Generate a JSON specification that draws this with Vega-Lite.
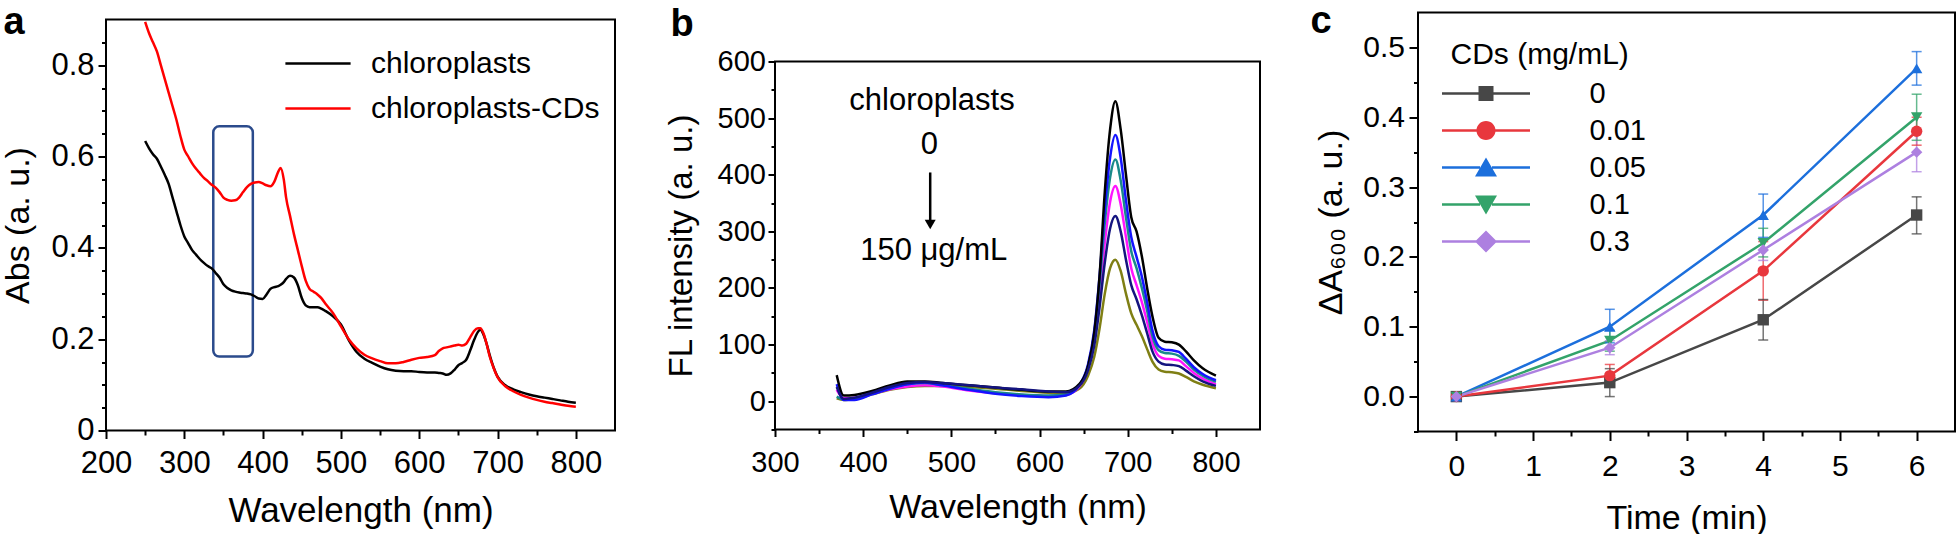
{
  "$schema": "https://vega.github.io/schema/vega-lite/v6.json",
  "padding": {"left": 0, "top": 1.5, "right": 0, "bottom": 0},
  "background": "white",
  "spacing": 48,
  "resolve": {"scale": {"color": "independent", "shape": "independent", "stroke": "independent", "fill": "independent"}, "legend": {"color": "independent", "shape": "independent"}},
  "config": {
    "font": "Liberation Sans",
    "view": {"stroke": "#000000", "strokeWidth": 2},
    "axis": {"domain": false, "grid": false, "tickColor": "#000000", "tickWidth": 2, "labelColor": "#000000", "titleColor": "#000000", "titleFontWeight": "normal", "labelFont": "Liberation Sans", "titleFont": "Liberation Sans", "labelFlush": false, "labelOverlap": false},
    "legend": {"labelFont": "Liberation Sans", "titleFont": "Liberation Sans", "labelColor": "#000000", "titleColor": "#000000", "titleFontWeight": "normal", "padding": 0, "labelLimit": 500, "titleLimit": 500},
    "title": {"font": "Liberation Sans", "fontWeight": "bold", "color": "#000000"}
  },
  "hconcat": [
    {
      "spacing": 0,
      "bounds": "flush",
      "vconcat": [
        {
          "width": 509, "height": 7,
          "data": {"values": [{}]},
          "mark": {"type": "text", "text": ""},
          "view": {"stroke": null},
          "title": {"text": "a", "anchor": "start", "frame": "group", "orient": "top", "offset": 0, "dx": -102.5, "dy": 61.6, "baseline": "alphabetic", "fontSize": 38}
        },
        {
          "width": 509, "height": 411,
          "resolve": {"axis": {"x": "independent", "y": "independent"}},
          "layer": [
            {
              "data": {"values": [{"x": 500, "y": 0.5}]},
              "mark": {"type": "point", "opacity": 0},
              "encoding": {
                "x": {"field": "x", "type": "quantitative", "scale": {"domain": [200, 850], "nice": false, "zero": false}, "axis": {"orient": "bottom", "values": [250, 350, 450, 550, 650, 750], "labels": false, "tickSize": 4.5, "title": null}},
                "y": {"field": "y", "type": "quantitative", "scale": {"domain": [0, 0.9], "nice": false, "zero": false}, "axis": {"orient": "left", "values": [0.05, 0.1, 0.15, 0.25, 0.3, 0.35, 0.45, 0.5, 0.55, 0.65, 0.7, 0.75, 0.85], "labels": false, "tickSize": 4.5, "title": null}}
              }
            },
            {
              "data": {"values": [{"x1": 337, "x2": 387.5, "y1": 0.162, "y2": 0.666}]},
              "mark": {"type": "rect", "filled": false, "stroke": "#2b4b8c", "strokeWidth": 2.5, "cornerRadius": 6},
              "encoding": {
                "x": {"field": "x1", "type": "quantitative", "scale": {"domain": [200, 850], "nice": false, "zero": false}, "axis": {"orient": "bottom", "values": [200, 300, 400, 500, 600, 700, 800], "format": "d", "labelFontSize": 31, "tickSize": 8, "labelPadding": 10, "title": "Wavelength (nm)", "titleFontSize": 35, "titlePadding": 15}},
                "x2": {"field": "x2"},
                "y": {"field": "y1", "type": "quantitative", "scale": {"domain": [0, 0.9], "nice": false, "zero": false}, "axis": {"orient": "left", "values": [0, 0.2, 0.4, 0.6, 0.8], "format": "~g", "labelFontSize": 31, "tickSize": 8, "labelPadding": 4, "title": "Abs (a. u.)", "titleFontSize": 34, "titlePadding": 15}},
                "y2": {"field": "y2"}
              }
            },
            {
              "data": {"values": [
                {"x": 250, "k": 0.634, "r": 0.895}, {"x": 255, "k": 0.618, "r": 0.87}, {"x": 260, "k": 0.605, "r": 0.85}, {"x": 265, "k": 0.595, "r": 0.83},
                {"x": 270, "k": 0.578, "r": 0.8}, {"x": 275, "k": 0.56, "r": 0.77}, {"x": 280, "k": 0.54, "r": 0.74}, {"x": 285, "k": 0.51, "r": 0.71},
                {"x": 290, "k": 0.48, "r": 0.68}, {"x": 295, "k": 0.45, "r": 0.645}, {"x": 300, "k": 0.425, "r": 0.615}, {"x": 305, "k": 0.41, "r": 0.6},
                {"x": 310, "k": 0.395, "r": 0.585}, {"x": 315, "k": 0.385, "r": 0.573}, {"x": 320, "k": 0.375, "r": 0.563}, {"x": 325, "k": 0.367, "r": 0.553},
                {"x": 330, "k": 0.36, "r": 0.546}, {"x": 335, "k": 0.355, "r": 0.538}, {"x": 340, "k": 0.345, "r": 0.532}, {"x": 345, "k": 0.335, "r": 0.522},
                {"x": 350, "k": 0.32, "r": 0.51}, {"x": 355, "k": 0.312, "r": 0.505}, {"x": 360, "k": 0.307, "r": 0.503}, {"x": 365, "k": 0.304, "r": 0.504},
                {"x": 370, "k": 0.302, "r": 0.51}, {"x": 375, "k": 0.301, "r": 0.522}, {"x": 380, "k": 0.3, "r": 0.533}, {"x": 385, "k": 0.298, "r": 0.54},
                {"x": 390, "k": 0.294, "r": 0.543}, {"x": 395, "k": 0.289, "r": 0.544}, {"x": 400, "k": 0.288, "r": 0.541}, {"x": 405, "k": 0.298, "r": 0.537},
                {"x": 410, "k": 0.31, "r": 0.535}, {"x": 415, "k": 0.314, "r": 0.545}, {"x": 420, "k": 0.316, "r": 0.567}, {"x": 423, "k": 0.319, "r": 0.575},
                {"x": 427, "k": 0.325, "r": 0.55}, {"x": 430, "k": 0.332, "r": 0.51}, {"x": 435, "k": 0.339, "r": 0.47}, {"x": 440, "k": 0.335, "r": 0.43},
                {"x": 445, "k": 0.318, "r": 0.395}, {"x": 450, "k": 0.29, "r": 0.36}, {"x": 455, "k": 0.274, "r": 0.328}, {"x": 460, "k": 0.27, "r": 0.31},
                {"x": 465, "k": 0.27, "r": 0.304}, {"x": 470, "k": 0.27, "r": 0.298}, {"x": 475, "k": 0.267, "r": 0.29}, {"x": 480, "k": 0.262, "r": 0.278},
                {"x": 490, "k": 0.25, "r": 0.257}, {"x": 500, "k": 0.232, "r": 0.228}, {"x": 510, "k": 0.198, "r": 0.2}, {"x": 520, "k": 0.172, "r": 0.18},
                {"x": 530, "k": 0.157, "r": 0.166}, {"x": 540, "k": 0.148, "r": 0.158}, {"x": 550, "k": 0.14, "r": 0.152}, {"x": 560, "k": 0.134, "r": 0.147},
                {"x": 570, "k": 0.131, "r": 0.147}, {"x": 580, "k": 0.13, "r": 0.15}, {"x": 590, "k": 0.13, "r": 0.155}, {"x": 600, "k": 0.128, "r": 0.159},
                {"x": 610, "k": 0.127, "r": 0.161}, {"x": 620, "k": 0.127, "r": 0.165}, {"x": 625, "k": 0.126, "r": 0.174}, {"x": 630, "k": 0.125, "r": 0.18},
                {"x": 635, "k": 0.122, "r": 0.182}, {"x": 640, "k": 0.125, "r": 0.184}, {"x": 645, "k": 0.133, "r": 0.186}, {"x": 650, "k": 0.143, "r": 0.188},
                {"x": 655, "k": 0.148, "r": 0.186}, {"x": 660, "k": 0.155, "r": 0.19}, {"x": 665, "k": 0.175, "r": 0.204}, {"x": 670, "k": 0.198, "r": 0.218},
                {"x": 675, "k": 0.216, "r": 0.224}, {"x": 678, "k": 0.221, "r": 0.224}, {"x": 682, "k": 0.21, "r": 0.213}, {"x": 686, "k": 0.19, "r": 0.19},
                {"x": 690, "k": 0.165, "r": 0.162}, {"x": 695, "k": 0.138, "r": 0.137}, {"x": 700, "k": 0.118, "r": 0.117}, {"x": 710, "k": 0.099, "r": 0.097},
                {"x": 720, "k": 0.09, "r": 0.086}, {"x": 730, "k": 0.084, "r": 0.078}, {"x": 740, "k": 0.079, "r": 0.072}, {"x": 750, "k": 0.075, "r": 0.067},
                {"x": 760, "k": 0.072, "r": 0.063}, {"x": 770, "k": 0.069, "r": 0.06}, {"x": 780, "k": 0.066, "r": 0.057}, {"x": 790, "k": 0.063, "r": 0.054},
                {"x": 800, "k": 0.061, "r": 0.052}
              ]},
              "transform": [{"fold": ["k", "r"], "as": ["s", "v"]}],
              "mark": {"type": "line", "strokeWidth": 2.5, "interpolate": "monotone"},
              "encoding": {
                "x": {"field": "x", "type": "quantitative", "scale": {"domain": [200, 850], "nice": false, "zero": false}, "axis": null},
                "y": {"field": "v", "type": "quantitative", "scale": {"domain": [0, 0.9], "nice": false, "zero": false}, "axis": null},
                "color": {"field": "s", "type": "nominal", "scale": {"domain": ["k", "r"], "range": ["#000000", "#ff0000"]},
                  "legend": {"orient": "none", "legendX": 197, "legendY": 36, "title": null, "symbolType": "M-3.26,0H3.26", "symbolSize": 400, "symbolStrokeWidth": 2.5, "labelFontSize": 30, "labelOffset": 38, "rowPadding": 15, "labelExpr": "datum.label == 'k' ? 'chloroplasts' : 'chloroplasts-CDs'"}}
              }
            }
          ]
        }
      ]
    },
    {
      "spacing": 0,
      "bounds": "flush",
      "vconcat": [
        {
          "width": 485, "height": 49,
          "data": {"values": [{}]},
          "mark": {"type": "text", "text": ""},
          "view": {"stroke": null},
          "title": {"text": "b", "anchor": "start", "frame": "group", "orient": "top", "offset": 0, "dx": -104.5, "dy": 61.6, "baseline": "alphabetic", "fontSize": 38}
        },
        {
          "width": 485, "height": 368,
          "resolve": {"axis": {"x": "independent", "y": "independent"}},
          "layer": [
            {
              "data": {"values": [{"x": 500, "y": 100}]},
              "mark": {"type": "point", "opacity": 0},
              "encoding": {
                "x": {"field": "x", "type": "quantitative", "scale": {"domain": [300, 850], "nice": false, "zero": false}, "axis": {"orient": "bottom", "values": [350, 450, 550, 650, 750], "labels": false, "tickSize": 4, "title": null}},
                "y": {"field": "y", "type": "quantitative", "scale": {"domain": [-50, 600], "nice": false, "zero": false}, "axis": {"orient": "left", "values": [-50, 50, 150, 250, 350, 450, 550], "labels": false, "tickSize": 4, "title": null}}
              }
            },
            {
              "data": {"values": [
                {"x": 370, "c0": 46, "c1": 30, "c2": 8, "c3": 20, "c4": 25, "c5": 5},
                {"x": 378, "c0": 10, "c1": 2, "c2": 3, "c3": 5, "c4": 4, "c5": 2},
                {"x": 390, "c0": 11, "c1": 2, "c2": 5, "c3": 6, "c4": 6, "c5": 4},
                {"x": 410, "c0": 18, "c1": 12, "c2": 14, "c3": 13, "c4": 15, "c5": 12},
                {"x": 430, "c0": 28, "c1": 22, "c2": 24, "c3": 21, "c4": 25, "c5": 20},
                {"x": 450, "c0": 35, "c1": 30, "c2": 30, "c3": 26, "c4": 32, "c5": 25},
                {"x": 470, "c0": 35, "c1": 33, "c2": 32, "c3": 28, "c4": 34, "c5": 27},
                {"x": 490, "c0": 32, "c1": 28, "c2": 28, "c3": 26, "c4": 32, "c5": 27},
                {"x": 520, "c0": 28, "c1": 20, "c2": 22, "c3": 19, "c4": 28, "c5": 25},
                {"x": 550, "c0": 24, "c1": 13, "c2": 16, "c3": 14, "c4": 24, "c5": 22},
                {"x": 580, "c0": 20, "c1": 9, "c2": 12, "c3": 11, "c4": 21, "c5": 18},
                {"x": 610, "c0": 17, "c1": 7, "c2": 10, "c3": 9, "c4": 17, "c5": 15},
                {"x": 630, "c0": 17, "c1": 10, "c2": 12, "c3": 11, "c4": 16, "c5": 14},
                {"x": 645, "c0": 30, "c1": 28, "c2": 28, "c3": 26, "c4": 27, "c5": 22},
                {"x": 655, "c0": 62, "c1": 65, "c2": 62, "c3": 58, "c4": 55, "c5": 45},
                {"x": 662, "c0": 120, "c1": 125, "c2": 118, "c3": 108, "c4": 98, "c5": 78},
                {"x": 668, "c0": 220, "c1": 220, "c2": 205, "c3": 185, "c4": 165, "c5": 128},
                {"x": 674, "c0": 370, "c1": 340, "c2": 315, "c3": 280, "c4": 245, "c5": 190},
                {"x": 680, "c0": 480, "c1": 430, "c2": 395, "c3": 352, "c4": 305, "c5": 235},
                {"x": 686, "c0": 530, "c1": 470, "c2": 427, "c3": 380, "c4": 327, "c5": 250},
                {"x": 692, "c0": 480, "c1": 430, "c2": 390, "c3": 348, "c4": 300, "c5": 230},
                {"x": 698, "c0": 400, "c1": 355, "c2": 325, "c3": 290, "c4": 250, "c5": 190},
                {"x": 704, "c0": 325, "c1": 290, "c2": 265, "c3": 235, "c4": 205, "c5": 155},
                {"x": 710, "c0": 300, "c1": 255, "c2": 235, "c3": 205, "c4": 180, "c5": 135},
                {"x": 716, "c0": 256, "c1": 220, "c2": 200, "c3": 175, "c4": 152, "c5": 115},
                {"x": 722, "c0": 200, "c1": 175, "c2": 160, "c3": 140, "c4": 120, "c5": 92},
                {"x": 728, "c0": 150, "c1": 125, "c2": 115, "c3": 102, "c4": 88, "c5": 70},
                {"x": 735, "c0": 112, "c1": 97, "c2": 90, "c3": 80, "c4": 70, "c5": 56},
                {"x": 742, "c0": 105, "c1": 91, "c2": 85, "c3": 75, "c4": 65, "c5": 52},
                {"x": 750, "c0": 104, "c1": 90, "c2": 84, "c3": 74, "c4": 64, "c5": 51},
                {"x": 758, "c0": 100, "c1": 87, "c2": 80, "c3": 72, "c4": 62, "c5": 49},
                {"x": 766, "c0": 88, "c1": 75, "c2": 70, "c3": 62, "c4": 54, "c5": 43},
                {"x": 775, "c0": 72, "c1": 60, "c2": 56, "c3": 50, "c4": 44, "c5": 35},
                {"x": 785, "c0": 58, "c1": 48, "c2": 45, "c3": 40, "c4": 35, "c5": 29},
                {"x": 800, "c0": 45, "c1": 37, "c2": 34, "c3": 30, "c4": 27, "c5": 23}
              ]},
              "transform": [{"fold": ["c5", "c3", "c2", "c1", "c0", "c4"], "as": ["s", "v"]}],
              "mark": {"type": "line", "strokeWidth": 2.5, "interpolate": "monotone"},
              "encoding": {
                "x": {"field": "x", "type": "quantitative", "scale": {"domain": [300, 850], "nice": false, "zero": false}, "axis": {"orient": "bottom", "values": [300, 400, 500, 600, 700, 800], "format": "d", "labelFontSize": 29, "tickSize": 7, "labelPadding": 11.5, "title": "Wavelength (nm)", "titleFontSize": 34, "titlePadding": 13}},
                "y": {"field": "v", "type": "quantitative", "scale": {"domain": [-50, 600], "nice": false, "zero": false}, "axis": {"orient": "left", "values": [0, 100, 200, 300, 400, 500, 600], "format": "d", "labelFontSize": 29, "tickSize": 7, "labelPadding": 2.5, "title": "FL intensity (a. u.)", "titleFontSize": 33, "titlePadding": 19}},
                "color": {"field": "s", "type": "nominal", "scale": {"domain": ["c0", "c1", "c2", "c3", "c4", "c5"], "range": ["#000000", "#1414ff", "#1a8a8a", "#ff14ff", "#14147f", "#7f7f14"]}, "legend": null}
              }
            },
            {
              "data": {"values": [
                {"x": 478, "y": 531, "t": "chloroplasts"},
                {"x": 475, "y": 452, "t": "0"},
                {"x": 480, "y": 265, "t": "150 μg/mL"}
              ]},
              "mark": {"type": "text", "fontSize": 31, "baseline": "middle", "align": "center", "color": "#000000"},
              "encoding": {
                "x": {"field": "x", "type": "quantitative", "scale": {"domain": [300, 850], "nice": false, "zero": false}, "axis": null},
                "y": {"field": "y", "type": "quantitative", "scale": {"domain": [-50, 600], "nice": false, "zero": false}, "axis": null},
                "text": {"field": "t"}
              }
            },
            {
              "data": {"values": [{"x": 476, "y": 404, "y2": 316}]},
              "mark": {"type": "rule", "strokeWidth": 2.5, "color": "#000000"},
              "encoding": {
                "x": {"field": "x", "type": "quantitative", "scale": {"domain": [300, 850], "nice": false, "zero": false}, "axis": null},
                "y": {"field": "y", "type": "quantitative", "scale": {"domain": [-50, 600], "nice": false, "zero": false}, "axis": null},
                "y2": {"field": "y2"}
              }
            },
            {
              "data": {"values": [{"x": 476, "y": 312}]},
              "mark": {"type": "point", "shape": "triangle-down", "filled": true, "size": 120, "opacity": 1, "color": "#000000"},
              "encoding": {
                "x": {"field": "x", "type": "quantitative", "scale": {"domain": [300, 850], "nice": false, "zero": false}, "axis": null},
                "y": {"field": "y", "type": "quantitative", "scale": {"domain": [-50, 600], "nice": false, "zero": false}, "axis": null}
              }
            }
          ]
        }
      ]
    },
    {
      "width": 537, "height": 419,
      "title": {"text": "c", "anchor": "start", "frame": "group", "orient": "top", "offset": 0, "dx": -107.5, "dy": 58, "baseline": "alphabetic", "fontSize": 38},
      "resolve": {"axis": {"x": "independent", "y": "independent"}},
      "data": {"values": [
        {"s": "0", "t": 0, "v": 0, "lo": 0, "hi": 0},
        {"s": "0", "t": 2, "v": 0.02, "lo": 0.0, "hi": 0.04},
        {"s": "0", "t": 4, "v": 0.11, "lo": 0.081, "hi": 0.139},
        {"s": "0", "t": 6, "v": 0.26, "lo": 0.233, "hi": 0.286},
        {"s": "0.01", "t": 0, "v": 0, "lo": 0, "hi": 0},
        {"s": "0.01", "t": 2, "v": 0.03, "lo": 0.015, "hi": 0.046},
        {"s": "0.01", "t": 4, "v": 0.18, "lo": 0.138, "hi": 0.222},
        {"s": "0.01", "t": 6, "v": 0.38, "lo": 0.36, "hi": 0.4},
        {"s": "0.05", "t": 0, "v": 0, "lo": 0, "hi": 0},
        {"s": "0.05", "t": 2, "v": 0.1, "lo": 0.077, "hi": 0.125},
        {"s": "0.05", "t": 4, "v": 0.26, "lo": 0.228, "hi": 0.29},
        {"s": "0.05", "t": 6, "v": 0.47, "lo": 0.446, "hi": 0.494},
        {"s": "0.1", "t": 0, "v": 0, "lo": 0, "hi": 0},
        {"s": "0.1", "t": 2, "v": 0.08, "lo": 0.065, "hi": 0.095},
        {"s": "0.1", "t": 4, "v": 0.22, "lo": 0.2, "hi": 0.241},
        {"s": "0.1", "t": 6, "v": 0.4, "lo": 0.367, "hi": 0.433},
        {"s": "0.3", "t": 0, "v": 0, "lo": 0, "hi": 0},
        {"s": "0.3", "t": 2, "v": 0.07, "lo": 0.06, "hi": 0.08},
        {"s": "0.3", "t": 4, "v": 0.21, "lo": 0.195, "hi": 0.226},
        {"s": "0.3", "t": 6, "v": 0.35, "lo": 0.322, "hi": 0.376}
      ]},
      "layer": [
        {
          "data": {"values": [{"x": 3, "y": 0.2}]},
          "mark": {"type": "point", "opacity": 0},
          "encoding": {
            "x": {"field": "x", "type": "quantitative", "scale": {"domain": [-0.5, 6.5], "nice": false, "zero": false}, "axis": {"orient": "bottom", "values": [0.5, 1.5, 2.5, 3.5, 4.5, 5.5], "labels": false, "tickSize": 4.5, "title": null}},
            "y": {"field": "y", "type": "quantitative", "scale": {"domain": [-0.05, 0.55], "nice": false, "zero": false}, "axis": {"orient": "left", "values": [-0.05, 0.05, 0.15, 0.25, 0.35, 0.45], "labels": false, "tickSize": 4.5, "title": null}}
          }
        },
        {
          "mark": {"type": "line", "strokeWidth": 2.5},
          "encoding": {
            "x": {"field": "t", "type": "quantitative", "scale": {"domain": [-0.5, 6.5], "nice": false, "zero": false}, "axis": {"orient": "bottom", "values": [0, 1, 2, 3, 4, 5, 6], "format": "d", "labelFontSize": 30, "tickSize": 9, "labelPadding": 11, "title": "Time (min)", "titleFontSize": 34, "titlePadding": 20}},
            "y": {"field": "v", "type": "quantitative", "scale": {"domain": [-0.05, 0.55], "nice": false, "zero": false}, "axis": {"orient": "left", "values": [0, 0.1, 0.2, 0.3, 0.4, 0.5], "format": ".1f", "labelFontSize": 30, "tickSize": 9, "labelPadding": 4.5, "title": "ΔA₆₀₀ (a. u.)", "titleFontSize": 34, "titlePadding": 14.5}},
            "stroke": {"field": "s", "type": "nominal", "scale": {"domain": ["0.3", "0.1", "0.05", "0.01", "0"], "range": ["#ad80e0", "#33a36a", "#1c6fdc", "#e8373d", "#474747"]}, "legend": null}
          }
        },
        {
          "transform": [{"filter": "datum.t > 0"}],
          "mark": {"type": "rule", "strokeWidth": 1.5, "opacity": 0.75},
          "encoding": {
            "x": {"field": "t", "type": "quantitative", "scale": {"domain": [-0.5, 6.5], "nice": false, "zero": false}, "axis": null},
            "y": {"field": "lo", "type": "quantitative", "scale": {"domain": [-0.05, 0.55], "nice": false, "zero": false}, "axis": null},
            "y2": {"field": "hi"},
            "stroke": {"field": "s", "type": "nominal", "scale": {"domain": ["0.3", "0.1", "0.05", "0.01", "0"], "range": ["#ad80e0", "#33a36a", "#1c6fdc", "#e8373d", "#474747"]}, "legend": null}
          }
        },
        {
          "transform": [{"filter": "datum.t > 0"}],
          "mark": {"type": "tick", "orient": "horizontal", "size": 10, "thickness": 1.5, "opacity": 0.75},
          "encoding": {
            "x": {"field": "t", "type": "quantitative", "scale": {"domain": [-0.5, 6.5], "nice": false, "zero": false}, "axis": null},
            "y": {"field": "lo", "type": "quantitative", "scale": {"domain": [-0.05, 0.55], "nice": false, "zero": false}, "axis": null},
            "fill": {"field": "s", "type": "nominal", "scale": {"domain": ["0.3", "0.1", "0.05", "0.01", "0"], "range": ["#ad80e0", "#33a36a", "#1c6fdc", "#e8373d", "#474747"]}, "legend": null}
          }
        },
        {
          "transform": [{"filter": "datum.t > 0"}],
          "mark": {"type": "tick", "orient": "horizontal", "size": 10, "thickness": 1.5, "opacity": 0.75},
          "encoding": {
            "x": {"field": "t", "type": "quantitative", "scale": {"domain": [-0.5, 6.5], "nice": false, "zero": false}, "axis": null},
            "y": {"field": "hi", "type": "quantitative", "scale": {"domain": [-0.05, 0.55], "nice": false, "zero": false}, "axis": null},
            "fill": {"field": "s", "type": "nominal", "scale": {"domain": ["0.3", "0.1", "0.05", "0.01", "0"], "range": ["#ad80e0", "#33a36a", "#1c6fdc", "#e8373d", "#474747"]}, "legend": null}
          }
        },
        {
          "mark": {"type": "point", "filled": true, "size": 130, "opacity": 1, "strokeWidth": 0},
          "encoding": {
            "x": {"field": "t", "type": "quantitative", "scale": {"domain": [-0.5, 6.5], "nice": false, "zero": false}, "axis": null},
            "y": {"field": "v", "type": "quantitative", "scale": {"domain": [-0.05, 0.55], "nice": false, "zero": false}, "axis": null},
            "color": {"field": "s", "type": "nominal", "scale": {"domain": ["0", "0.01", "0.05", "0.1", "0.3"], "range": ["#474747", "#e8373d", "#1c6fdc", "#33a36a", "#ad80e0"]},
              "legend": {"orient": "none", "legendX": 32.5, "legendY": 27.5, "title": "CDs (mg/mL)", "titleFontSize": 30, "titlePadding": 9, "labelFontSize": 29, "symbolSize": 400, "symbolStrokeWidth": 0, "labelOffset": 110, "rowPadding": 7,
                "symbolType": {"expr": "datum.value === '0' ? 'M-2.3,-0.12H1.5V0.12H-2.3Z M2.7,-0.12H6.5V0.12H2.7Z M1.35,-0.75H2.85V0.75H1.35Z' : datum.value === '0.01' ? 'M-2.3,-0.12H1.5V0.12H-2.3Z M2.7,-0.12H6.5V0.12H2.7Z M1.15,0A0.95,0.95,0,1,1,3.05,0A0.95,0.95,0,1,1,1.15,0Z' : datum.value === '0.05' ? 'M-2.3,-0.12H1.5V0.12H-2.3Z M2.7,-0.12H6.5V0.12H2.7Z M2.1,-1L3.2,0.9H1Z' : datum.value === '0.1' ? 'M-2.3,-0.12H1.5V0.12H-2.3Z M2.7,-0.12H6.5V0.12H2.7Z M2.1,1L1,-0.9H3.2Z' : 'M-2.3,-0.12H1.5V0.12H-2.3Z M2.7,-0.12H6.5V0.12H2.7Z M2.1,-1.1L3.2,0L2.1,1.1L1,0Z'"}}},
            "shape": {"field": "s", "type": "nominal", "scale": {"domain": ["0.3", "0.1", "0.05", "0.01", "0"], "range": ["diamond", "triangle-down", "triangle-up", "circle", "square"]}, "legend": null}
          }
        }
      ]
    }
  ]
}
